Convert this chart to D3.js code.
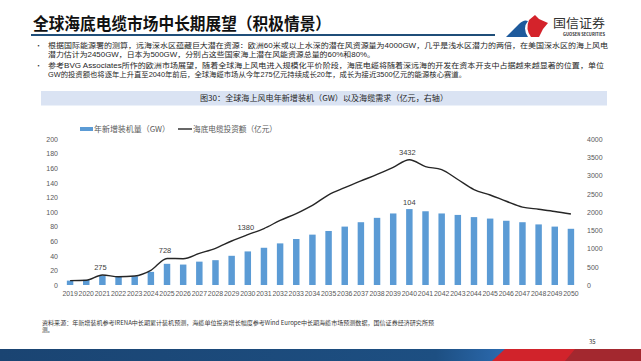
<!DOCTYPE html>
<html>
<head>
<meta charset="utf-8">
<script src="https://cdn.jsdelivr.net/npm/d3@7"></script>
<style>
  body { margin: 0; background: #fff; }
  svg { display: block; font-family: "Noto Sans CJK SC", "Noto Sans", sans-serif; }
</style>
</head>
<body>
<div id="chart"></div>
<script>
// data
const years = d3.range(2019, 2051).map(String);
const capacity = [6, 7, 13, 11, 12, 18, 29, 28, 32, 34, 40, 46, 51, 57, 63, 69,
                  74, 80, 86, 92, 98, 104, 101, 98, 96, 93, 91, 88, 86, 83, 80, 77];
const cableInvest = [120, 130, 275, 225, 245, 400, 728, 720, 865, 1005, 1205, 1380, 1545, 1770, 1955, 2180,
                     2470, 2665, 2850, 3030, 3225, 3432, 3245, 3160, 2890, 2615, 2465, 2295, 2135, 2075, 2015, 1945];
const leftTicks = [0, 20, 40, 60, 80, 100, 120, 140, 160, 180, 200];
const rightTicks = [0, 500, 1000, 1500, 2000, 2500, 3000, 3500, 4000];
const lineLabels = ["2021", "2025", "2030", "2040"];
const barLabels = ["2040"];

const bullets = [
  ["根据国际能源署的测算，远海深水区蕴藏巨大潜在资源：欧洲60米或以上水深的潜在风资源量为4000GW，几乎是浅水区潜力的两倍，在美国深水区的海上风电",
   "潜力估计为2450GW，日本为500GW，分别占这些国家海上潜在风能资源总量的60%和80%。"],
  ["参考BVG Associates所作的欧洲市场展望，随着全球海上风电进入规模化平价阶段，海底电缆将随着深远海的开发在资本开支中占据越来越显著的位置，单位",
   "GW的投资额也将逐年上升直至2040年前后，全球海缆市场从今年275亿元持续成长20年，成长为接近3500亿元的能源核心赛道。"]
];

const W = 641, H = 361;
const svg = d3.select("#chart").append("svg").attr("width", W).attr("height", H);

// page header
svg.append("text").attr("x", 33).attr("y", 30)
  .attr("font-size", 16.5).attr("font-weight", "bold").attr("fill", "#111")
  .attr("textLength", 298).attr("lengthAdjust", "spacingAndGlyphs")
  .text("全球海底电缆市场中长期展望（积极情景）");
svg.append("rect").attr("x", 31).attr("y", 34).attr("width", 464).attr("height", 2).attr("fill", "#1f4e79");

// logo
const logo = svg.append("g");
logo.append("path").attr("d", "M506,37 L519,24 Q524,19 528,21 Q522,28 528,37 Z").attr("fill", "#1e5a9c");
logo.append("path").attr("d", "M529,20 L535,15 L539,19 L548,23 L543,29 L539,37 L531,37 Q525,29 529,20 Z").attr("fill", "#d4232b");
logo.append("text").attr("x", 553).attr("y", 28).attr("font-size", 12.5).attr("fill", "#333")
  .attr("textLength", 52).attr("lengthAdjust", "spacingAndGlyphs").text("国信证券");
logo.append("text").attr("x", 563).attr("y", 36).attr("font-size", 4.2).attr("font-weight", "bold").attr("fill", "#333")
  .attr("textLength", 42).attr("lengthAdjust", "spacingAndGlyphs").text("GUOSEN SECURITIES");

// bullet text (one text element per paragraph, wrapped into two lines)
const lineEnds = [[608, 375], [604, 466]];
const lineYs = [[48.3, 57.3], [67.8, 76.8]];
bullets.forEach((b, i) => {
  svg.append("text").attr("x", 35).attr("y", lineYs[i][0]).attr("font-size", 7).attr("fill", "#333").text("•");
  const para = svg.append("text").attr("font-size", 7.2).attr("fill", "#262626")
    .attr("font-family", "'Liberation Sans', 'Noto Sans CJK SC', sans-serif");
  b.forEach((t, j) => {
    para.append("tspan").attr("x", 48).attr("y", lineYs[i][j])
      .attr("textLength", lineEnds[i][j] - 48).attr("lengthAdjust", "spacingAndGlyphs")
      .text(t);
  });
});

// chart title band
svg.append("rect").attr("x", 41).attr("y", 91).attr("width", 566).attr("height", 14.5).attr("fill", "#dae3f3");
svg.append("text").attr("x", 324).attr("y", 101).attr("text-anchor", "middle")
  .attr("font-size", 7.8).attr("fill", "#262626")
  .attr("textLength", 248).attr("lengthAdjust", "spacingAndGlyphs")
  .text("图30：全球海上风电年新增装机（GW）以及海缆需求（亿元，右轴）");

// scales
const x = d3.scaleBand().domain(years).range([62, 579]).paddingInner(0.6).paddingOuter(0.3);
const yL = d3.scaleLinear().domain([0, 200]).range([285, 139]);
const yR = d3.scaleLinear().domain([0, 4000]).range([285, 139]);
const cx = d => x(d) + x.bandwidth() / 2;

// axes
const axisL = svg.append("g").attr("transform", "translate(62,0)")
  .call(d3.axisLeft(yL).tickValues(leftTicks).tickFormat(d3.format("d")).tickSize(0).tickPadding(4));
const axisR = svg.append("g").attr("transform", "translate(583,0)")
  .call(d3.axisRight(yR).tickValues(rightTicks).tickFormat(d3.format("d")).tickSize(0).tickPadding(4));
const axisB = svg.append("g").attr("transform", "translate(0,287)")
  .call(d3.axisBottom(x).tickSize(0).tickPadding(4));
[axisL, axisR, axisB].forEach(a => {
  a.select(".domain").remove();
  a.selectAll("text").attr("font-family", "Liberation Sans, Arial, sans-serif").attr("fill", "#595959").attr("font-size", 7);
});
axisB.selectAll("text").attr("font-size", 6.9);

// bars
svg.append("g").selectAll("rect").data(years).join("rect")
  .attr("x", d => x(d)).attr("width", x.bandwidth())
  .attr("y", (d, i) => yL(capacity[i])).attr("height", (d, i) => yL(0) - yL(capacity[i]))
  .attr("fill", "#5b9bd5");

// line
const line = d3.line().x(d => cx(d[0])).y(d => yR(d[1])).curve(d3.curveMonotoneX);
svg.append("path").datum(years.map((d, i) => [d, cableInvest[i]]))
  .attr("d", line).attr("fill", "none").attr("stroke", "#262626").attr("stroke-width", 1.4);

// data labels
const lab = svg.append("g").attr("font-family", "Liberation Sans, Arial, sans-serif")
  .attr("font-size", 7.5).attr("fill", "#404040").attr("text-anchor", "middle");
lineLabels.forEach(yr => {
  const i = years.indexOf(yr);
  lab.append("text").attr("x", cx(yr) - 2).attr("y", yR(cableInvest[i]) - 5).text(cableInvest[i]);
});
barLabels.forEach(yr => {
  const i = years.indexOf(yr);
  lab.append("text").attr("x", cx(yr)).attr("y", yL(capacity[i]) - 4).text(capacity[i]);
});

// legend
const leg = svg.append("g").attr("font-size", 7.8).attr("fill", "#595959");
leg.append("rect").attr("x", 80).attr("y", 127).attr("width", 13).attr("height", 4).attr("fill", "#5b9bd5");
leg.append("text").attr("x", 94).attr("y", 132).attr("textLength", 76).attr("lengthAdjust", "spacingAndGlyphs").text("年新增装机量（GW）");
leg.append("line").attr("x1", 178).attr("x2", 192).attr("y1", 129).attr("y2", 129).attr("stroke", "#262626").attr("stroke-width", 1.4);
leg.append("text").attr("x", 193).attr("y", 132).attr("textLength", 84).attr("lengthAdjust", "spacingAndGlyphs").text("海底电缆投资额（亿元）");

// source & page number
const src = svg.append("text").attr("font-size", 5.6).attr("fill", "#333");
src.append("tspan").attr("x", 42).attr("y", 325)
  .attr("textLength", 392).attr("lengthAdjust", "spacingAndGlyphs")
  .text("资料来源：年新增装机参考IRENA中长期累计装机预测，海缆单位投资增长幅度参考Wind Europe中长期海缆市场预测数据，国信证券经济研究所预");
src.append("tspan").attr("x", 42).attr("y", 332).text("测。");
svg.append("text").attr("x", 589).attr("y", 344).attr("font-size", 6).attr("fill", "#333").text("35");

// bottom band
const defs = svg.append("defs");
const gr = defs.append("linearGradient").attr("id", "bandBlue").attr("x1", 0).attr("x2", 1);
gr.append("stop").attr("offset", "0").attr("stop-color", "#1a4472");
gr.append("stop").attr("offset", "0.68").attr("stop-color", "#1d4f82");
gr.append("stop").attr("offset", "0.8").attr("stop-color", "#2d6db4");
svg.append("rect").attr("x", 0).attr("y", 349).attr("width", 641).attr("height", 12).attr("fill", "url(#bandBlue)");
svg.append("path").attr("d", "M505,349 L641,349 L641,361 L492,361 Z").attr("fill", "#d1232b");
svg.append("path").attr("d", "M575,349 L641,349 L641,361 L565,361 Z").attr("fill", "#a3282f");
</script>
</body>
</html>
